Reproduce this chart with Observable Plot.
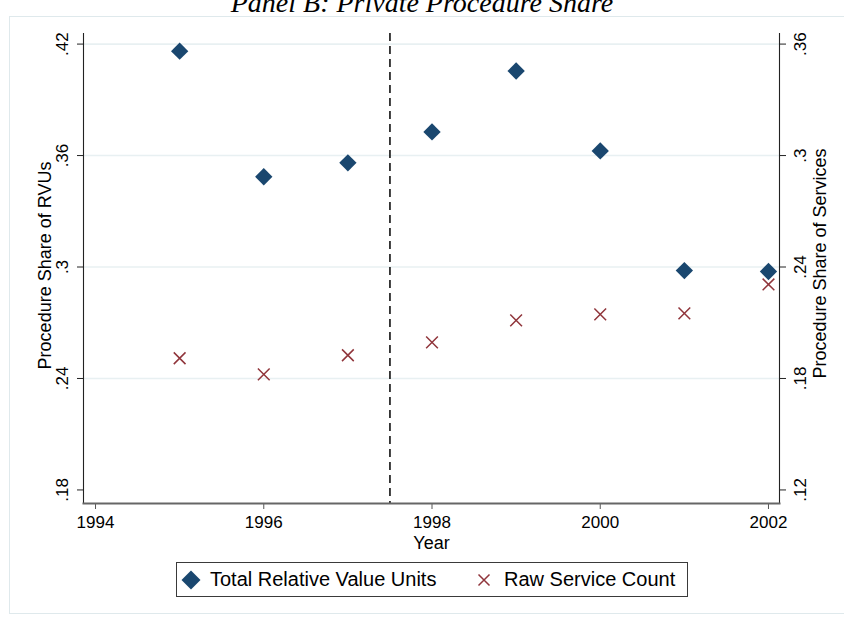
<!DOCTYPE html>
<html>
<head>
<meta charset="utf-8">
<script src="https://cdn.jsdelivr.net/npm/d3@7"></script>
<script src="https://cdn.jsdelivr.net/npm/@observablehq/plot@0.6"></script>
<style>
  html, body { margin: 0; padding: 0; background: #fff; }
  #wrap { position: relative; width: 844px; height: 619px; overflow: hidden; font-family: "Liberation Sans", Arial, sans-serif; }
  #frame { position: absolute; left: 9px; top: 16px; width: 900px; height: 598px; border: 1px solid #dfe9ec; box-sizing: border-box; }
  #title { position: absolute; left: 0; width: 844px; top: -11px; text-align: center; font-family: "Liberation Serif", "DejaVu Serif", serif; font-style: italic; font-size: 28px; line-height: 28px; color: #000; white-space: nowrap; }
  #chart { position: absolute; left: 0; top: 0; }
  #legend { position: absolute; left: 176px; top: 562px; width: 512px; height: 35px; border: 1.5px solid #3a3a3a; box-sizing: border-box; background: #fff; }
  .lg { position: absolute; font-size: 20px; line-height: 20px; color: #000; white-space: nowrap; }
</style>
</head>
<body>
<div id="wrap">
  <div id="frame"></div>
  <div id="chart"></div>
  <div id="title">Panel B: Private Procedure Share</div>
  <div id="legend"></div>
</div>
<script>
// ---- data ----
const years = [1995, 1996, 1997, 1998, 1999, 2000, 2001, 2002];
const rvuShare = [0.4162, 0.3486, 0.3561, 0.3727, 0.4055, 0.3625, 0.2981, 0.2976];
const serviceShare = [0.1909, 0.1822, 0.1925, 0.1994, 0.2113, 0.2145, 0.2150, 0.2306];
const xTicks = [1994, 1996, 1998, 2000, 2002];
const leftTicks = [0.18, 0.24, 0.30, 0.36, 0.42];
const rightTicks = [0.12, 0.18, 0.24, 0.30, 0.36];
const gridTicks = [0.24, 0.30, 0.36, 0.42];
const policyYear = [1997.5];
const seriesNames = ["Total Relative Value Units", "Raw Service Count"];
const axisTitles = {x: "Year", left: "Procedure Share of RVUs", right: "Procedure Share of Services"};

// right axis = left axis - 0.06
const shift = 0.06;
const navy = "#1a476f", maroon = "#90353b";
const fmt = d => d3.format(".2~f")(Math.round(d * 1000) / 1000).replace(/^0/, "");

const rows = years.map((y, i) => ({year: y, rvu: rvuShare[i], svc: serviceShare[i]}));

const plot = Plot.plot({
  width: 844,
  height: 560,
  marginLeft: 83,
  marginRight: 65,
  marginTop: 33,
  marginBottom: 57,
  x: {domain: [1993.857, 2002.131]},
  y: {domain: [0.1727, 0.4257]},
  style: {fontFamily: "Liberation Sans, Arial, sans-serif", background: "transparent", color: "#000", overflow: "visible"},
  marks: [
    Plot.gridY(gridTicks, {stroke: "#e8f0f2", strokeOpacity: 1, strokeWidth: 1.6}),
    Plot.ruleX(policyYear, {stroke: "#2b2b2b", strokeWidth: 1.8, strokeDasharray: "8,5"}),
    Plot.axisX(xTicks, {anchor: "bottom", tickSize: 6, tickPadding: 6, tickFormat: d => String(d), fontSize: 17, label: null, stroke: "#555"}),
    Plot.axisY(leftTicks, {anchor: "left", tickSize: 6, tickPadding: 10, tickRotate: -90, tickFormat: fmt, fontSize: 17, label: null, stroke: "#222"}),
    Plot.axisY(rightTicks.map(t => t + shift), {anchor: "right", tickSize: 6, tickPadding: 8, tickRotate: -90, lineAnchor: "top", tickFormat: d => fmt(d - shift), fontSize: 17, label: null, stroke: "#222"}),
    Plot.frame({anchor: "left", stroke: "#222", strokeWidth: 1.1}),
    Plot.frame({anchor: "right", stroke: "#222", strokeWidth: 1.1}),
    Plot.frame({anchor: "bottom", stroke: "#666", strokeWidth: 2}),
    Plot.text([axisTitles.left], {frameAnchor: "left", dx: -33, dy: -3, rotate: -90, textAnchor: "middle", lineAnchor: "bottom", fontSize: 18}),
    Plot.text([axisTitles.right], {frameAnchor: "right", dx: 46, dy: -5, rotate: -90, textAnchor: "middle", lineAnchor: "bottom", fontSize: 18}),
    Plot.text([axisTitles.x], {frameAnchor: "bottom", dy: 45, textAnchor: "middle", lineAnchor: "bottom", fontSize: 18}),
    Plot.dot(rows, {x: "year", y: d => d.svc + shift, symbol: "times", r: 5.4, stroke: maroon, strokeWidth: 1.5}),
    Plot.dot(rows, {x: "year", y: "rvu", symbol: "diamond2", r: 7.8, fill: navy, stroke: null})
  ]
});
document.getElementById("chart").appendChild(plot);

// legend
const lg = document.getElementById("legend");
lg.innerHTML = `
  <svg style="position:absolute;left:3px;top:6px" width="22" height="22"><path d="M11,1.5L20.5,11L11,20.5L1.5,11Z" fill="${navy}"/></svg>
  <div class="lg" style="left:33px;top:6px">${seriesNames[0]}</div>
  <svg style="position:absolute;left:299px;top:9px" width="16" height="16"><path d="M2.5,2.5L13.5,13.5M13.5,2.5L2.5,13.5" stroke="${maroon}" stroke-width="1.5"/></svg>
  <div class="lg" style="left:327px;top:6px">${seriesNames[1]}</div>`;
</script>
</body>
</html>
